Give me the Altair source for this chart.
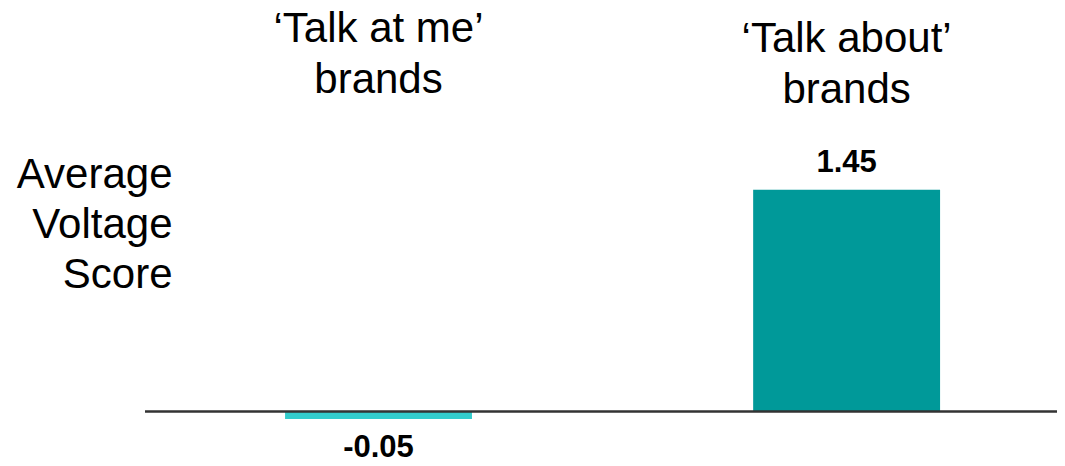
import altair as alt
import pandas as pd

categories = ["‘Talk at me’\nbrands", "‘Talk about’\nbrands"]
values = [-0.05, 1.45]
value_labels = ["-0.05", "1.45"]
bar_colors = ["#33CCCC", "#009999"]
y_title = ["Average", "Voltage", "Score"]

df = pd.DataFrame({"cat": categories, "value": values, "label": value_labels})

FONT = "Liberation Sans"

x_enc = alt.X(
    "cat:N",
    sort=categories,
    scale=alt.Scale(paddingInner=0.6007, paddingOuter=0.2745, align=0.545),
    axis=alt.Axis(
        orient="top", title=None, domain=False, ticks=False, labelAngle=0,
        labelFont=FONT, labelFontSize=42, labelColor="#000000",
        labelLineHeight=51, labelLimit=600,
        labelExpr="split(datum.label, '\\n')",
        labelPadding={"condition": {"test": "datum.index < 0.5", "value": 71}, "value": 61},
    ),
)
y_scale = alt.Scale(domain=[-0.2, 1.9], nice=False, zero=False)

bars = alt.Chart(df).mark_bar().encode(
    x=x_enc,
    y=alt.Y(
        "value:Q", scale=y_scale,
        axis=alt.Axis(
            title=y_title, domain=False, ticks=False, labels=False, grid=False,
            titleAngle=0, titleAlign="right", titleBaseline="alphabetic",
            titleX=27, titleY=66, titleFont=FONT, titleFontSize=42,
            titleFontWeight="normal", titleColor="#000000", titleLineHeight=50,
        ),
    ),
    color=alt.Color("cat:N", scale=alt.Scale(domain=categories, range=bar_colors), legend=None),
)

zero_rule = alt.Chart(df).mark_rule(color="#333333", strokeWidth=2).encode(y=alt.datum(0))

pos_text = alt.Chart(df).transform_filter("datum.value >= 0").mark_text(
    font=FONT, fontSize=31, fontWeight="bold", color="#000000", baseline="alphabetic", dy=-18
).encode(x=alt.X("cat:N", sort=categories), y=alt.Y("value:Q"), text="label:N")

neg_text = alt.Chart(df).transform_filter("datum.value < 0").mark_text(
    font=FONT, fontSize=31, fontWeight="bold", color="#000000", baseline="alphabetic", dy=38
).encode(x=alt.X("cat:N", sort=categories), y=alt.Y("value:Q"), text="label:N")

chart = alt.layer(bars, zero_rule, pos_text, neg_text).properties(
    width=912, height=321,
    background="white",
    autosize=alt.AutoSizeParams(type="none"),
    padding={"left": 137, "top": 113, "right": 0, "bottom": 16},
).configure_view(stroke=None)

chart.save("out.html", embed_options={"renderer": "svg", "actions": False})
